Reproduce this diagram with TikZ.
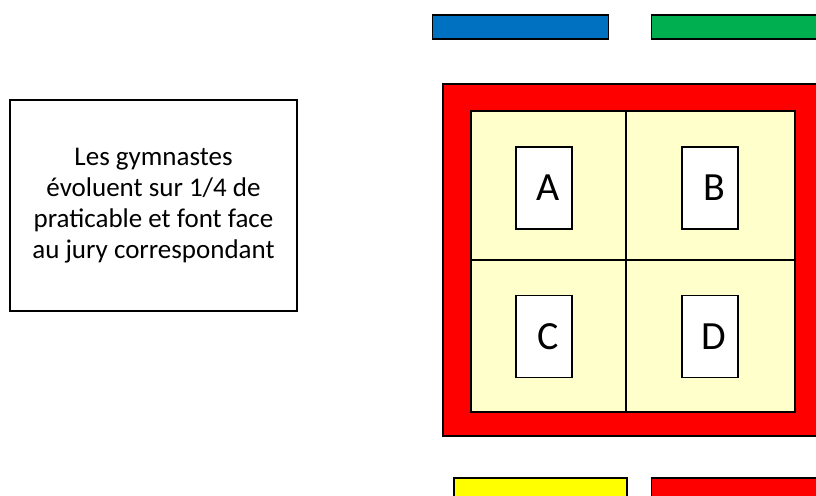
\documentclass[tikz,border=0pt]{standalone}
\usepackage{fontspec}
\setmainfont{Carlito}
\definecolor{cblue}{HTML}{0070C0}
\definecolor{cgreen}{HTML}{00B050}
\definecolor{cred}{HTML}{FF0000}
\definecolor{cyellow}{HTML}{FFFF00}
\definecolor{clight}{HTML}{FFFFCC}
\tikzset{
  bar/.style={draw=black, line width=1.2pt, inner sep=0pt, minimum width=176pt, minimum height=24pt},
  quarter/.style={draw=black, line width=1.2pt, fill=clight, inner sep=0pt},
  jury/.style={draw=black, line width=1.2pt, fill=white, inner sep=0pt, minimum width=56pt, minimum height=82pt, font=\fontsize{40}{44}\selectfont},
  infobox/.style={draw=black, line width=1.2pt, inner sep=0pt, minimum width=287pt, minimum height=211pt, align=center, font=\fontsize{27}{31}\selectfont}
}
\begin{document}
\begin{tikzpicture}[x=1pt,y=-1pt]
\useasboundingbox (0,0) rectangle (816,495);
\clip (0,0) rectangle (816,495);
% info box
\node[infobox] (info) at (153.5,205.5) {Les gymnastes\\évoluent sur 1/4 de\\praticable et font face\\au jury correspondant};
% top bars
\node[bar, fill=cblue] (blue) at (520.5,27) {};
\node[bar, fill=cgreen] (green) at (739.5,27) {};
% red floor
\node[draw=black, line width=1.4pt, fill=cred, inner sep=0pt, minimum width=380pt, minimum height=352pt] (floor) at (633,260) {};
% quarters
\node[quarter, minimum width=155pt, minimum height=149pt] (qA) at (548.5,185.5) {};
\node[quarter, minimum width=169pt, minimum height=149pt] (qB) at (710.5,185.5) {};
\node[quarter, minimum width=155pt, minimum height=152pt] (qC) at (548.5,336) {};
\node[quarter, minimum width=169pt, minimum height=152pt] (qD) at (710.5,336) {};
% jury boxes
\node[jury] (A) at (544,188) {\hspace*{8pt}A};
\node[jury] (B) at (710,188) {\hspace*{8pt}B};
\node[jury] (C) at (544,336.5) {\hspace*{8pt}C};
\node[jury] (D) at (710,336.5) {\hspace*{8pt}D};
% bottom bars
\node[bar, fill=cyellow, minimum width=173pt, minimum height=34pt] (yellow) at (540.5,495) {};
\node[bar, fill=cred, minimum width=176pt, minimum height=34pt] (redbar) at (739.5,495) {};
\end{tikzpicture}
\end{document}
